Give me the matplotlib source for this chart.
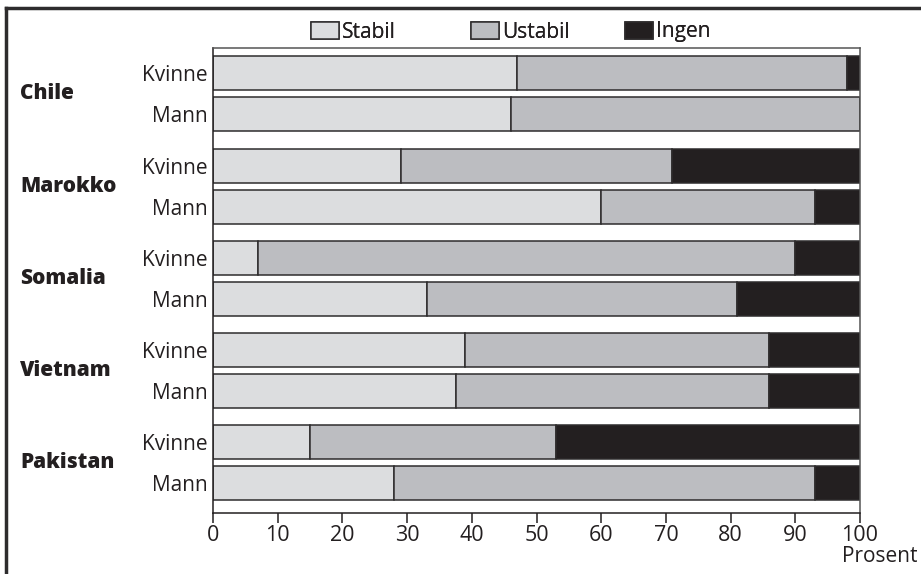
import matplotlib.pyplot as plt
import matplotlib.transforms as mtransforms
from matplotlib.patches import Patch
from matplotlib.lines import Line2D
import numpy as np

plt.rcParams['font.family'] = ['Open Sans', 'DejaVu Sans']

countries = ['Chile', 'Marokko', 'Somalia', 'Vietnam', 'Pakistan']
sexes = ['Kvinne', 'Mann']

# percent per country: [Kvinne, Mann]
stabil = [[47, 46], [29, 60], [7, 33], [39, 37.5], [15, 28]]
ustabil = [[51, 54], [42, 33], [83, 48], [47, 48.5], [38, 65]]
ingen = [[2, 0], [29, 7], [10, 19], [14, 14], [47, 7]]

cat_names = ['Stabil', 'Ustabil', 'Ingen']
colors = ['#dcdddf', '#bcbdc1', '#231f20']
edge = '#2e2c2d'
txt = '#231f20'
fs = 15

fig = plt.figure(figsize=(9.21, 5.74), dpi=100)
ax = fig.add_axes([0.2313, 0.1063, 0.7025, 0.8101])

ypos, ylabels, s_vals, u_vals, i_vals = [], [], [], [], []
for g, c in enumerate(countries):
    for k, sx in enumerate(sexes):
        ypos.append(g * 2.25 + k)
        ylabels.append(sx)
        s_vals.append(stabil[g][k])
        u_vals.append(ustabil[g][k])
        i_vals.append(ingen[g][k])
ypos = np.array(ypos)
s_vals, u_vals, i_vals = map(np.array, (s_vals, u_vals, i_vals))

h = 0.83
ax.barh(ypos, s_vals, height=h, color=colors[0], edgecolor=edge, linewidth=1.1)
ax.barh(ypos, u_vals, left=s_vals, height=h, color=colors[1], edgecolor=edge, linewidth=1.1)
ax.barh(ypos, i_vals, left=s_vals + u_vals, height=h, color=colors[2], edgecolor=edge, linewidth=1.1)

ax.set_xlim(0, 100)
ax.set_ylim(ypos[-1] + 0.73, -0.62)
ax.set_xticks(range(0, 101, 10))
ax.set_yticks(ypos)
ax.set_yticklabels(ylabels, fontsize=fs, color=txt)
ax.tick_params(axis='y', length=0, pad=4)
ax.tick_params(axis='x', length=7, width=1.1, color=txt, labelsize=15.5,
               labelcolor=txt, pad=2)
for sp in ax.spines.values():
    sp.set_linewidth(1.1)
    sp.set_color(txt)
ax.spines['top'].set_color('#555555')
ax.spines['right'].set_color('#555555')

# country names to the left of each pair
trans = mtransforms.blended_transform_factory(fig.transFigure, ax.transData)
for g, c in enumerate(countries):
    ax.text(20 / 921, g * 2.25 + 0.5, c, transform=trans, fontsize=15,
            fontweight='heavy', va='center', ha='left', color=txt)

fig.text(0.996, 1 - 557 / 574, 'Prosent', fontsize=fs, ha='right', va='center', color=txt)

# legend entries, one per category
leg_x = [311, 471, 625]
for i in range(3):
    handle = Patch(facecolor=colors[i], edgecolor=edge, linewidth=1.1, label=cat_names[i])
    leg = fig.legend(handles=[handle], loc='center left',
                     bbox_to_anchor=(leg_x[i] / 921, 1 - 32 / 574),
                     frameon=False, fontsize=fs, handlelength=1.35, handleheight=0.9,
                     handletextpad=0.12, borderpad=0, borderaxespad=0, labelcolor=txt)
    fig.add_artist(leg)

# frame lines on the left and top
fig.add_artist(Line2D([6 / 921, 6 / 921], [0, 1 - 8 / 574], transform=fig.transFigure,
                      color=edge, linewidth=2.5))
fig.add_artist(Line2D([6 / 921, 1], [1 - 8 / 574, 1 - 8 / 574], transform=fig.transFigure,
                      color=edge, linewidth=2.5))

fig.savefig('out.png', dpi=100)
